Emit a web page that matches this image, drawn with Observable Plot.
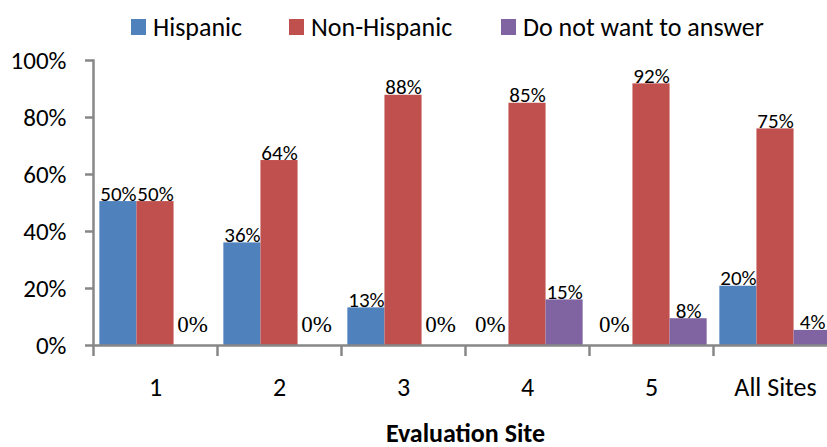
<!DOCTYPE html>
<html>
<head>
<meta charset="utf-8">
<script src="https://cdn.jsdelivr.net/npm/d3@7"></script>
<script src="https://cdn.jsdelivr.net/npm/@observablehq/plot@0.6"></script>
<style>
  html, body { margin: 0; padding: 0; background: #fff; overflow: hidden; }
  #wrap { width: 827px; height: 447px; position: relative; }
  #legend { position: relative; height: 46px; font-family: Carlito, Lato, sans-serif; font-size: 26px; color: #000; }
  .item { position: absolute; top: 12px; display: flex; align-items: center; white-space: nowrap; line-height: 30px; }
  .sw { width: 15px; height: 16px; margin-right: 7px; display: inline-block; }
  #chart svg { display: block; overflow: visible; }
  #chart svg g[font-family*="Serif"] text,
  #chart svg g[font-size="23"] text,
  #chart svg g[font-size="23px"] text,
  #chart svg text.zero-label { font-family: "Liberation Serif", "Times New Roman", serif !important; }
</style>
</head>
<body>
<div id="wrap">
  <div id="legend"></div>
  <div id="chart"></div>
</div>
<script>
const sites = ["1", "2", "3", "4", "5", "All Sites"];
const series = ["Hispanic", "Non-Hispanic", "Do not want to answer"];
const colors = ["#4F81BD", "#C0504D", "#8064A2"];
const hispanic = [50.5, 36, 13.2, 0, 0, 20.8];
const nonHispanic = [50.5, 64.9, 87.8, 85, 91.8, 76];
const noAnswer = [0, 0, 0, 16, 9.4, 5.3];
const hispanicLabels = ["50%", "36%", "13%", "0%", "0%", "20%"];
const nonHispanicLabels = ["50%", "64%", "88%", "85%", "92%", "75%"];
const noAnswerLabels = ["0%", "0%", "0%", "15%", "8%", "4%"];
const yTicks = [0, 20, 40, 60, 80, 100];

const valuesBySeries = [hispanic, nonHispanic, noAnswer];
const labelsBySeries = [hispanicLabels, nonHispanicLabels, noAnswerLabels];
const rows = [];
series.forEach((s, i) => sites.forEach((site, j) => rows.push({site, series: s, value: valuesBySeries[i][j], label: labelsBySeries[i][j]})));

// legend
const legendX = [131, 289, 501];
const legend = document.getElementById("legend");
series.forEach((s, i) => {
  const it = document.createElement("div");
  it.className = "item";
  it.style.left = legendX[i] + "px";
  it.innerHTML = `<span class="sw" style="background:${colors[i]}"></span><span>${s}</span>`;
  legend.appendChild(it);
});

const width = 827, height = 401;
const xRange = [93, 837];
const step = (xRange[1] - xRange[0]) / sites.length;
const sub = d3.scaleBand().domain(series).range([0, step]).paddingInner(0).paddingOuter(0.171);
const bw = sub.bandwidth();
const axisColor = "#878787";
const serif = "Liberation Serif, Times New Roman, serif";

const marks = [];
series.forEach((s, i) => {
  const data = rows.filter(d => d.series === s);
  marks.push(Plot.barY(data, {
    x: "site", y: "value", fill: colors[i],
    insetLeft: sub(s), insetRight: step - sub(s) - bw
  }));
  const off = sub(s) + bw / 2 - step / 2;
  marks.push(Plot.text(data.filter(d => d.value > 0), {
    x: "site", y: "value", text: "label", dx: off, dy: -1,
    lineAnchor: "bottom", fontSize: 21, fill: "#000"
  }));
  marks.push(Plot.text(data.filter(d => d.value === 0), {
    x: "site", y: "value", text: "label", dx: off, dy: -14,
    lineAnchor: "bottom", fontSize: 23, fontFamily: serif, fill: "#000"
  }));
});

const chart = Plot.plot({
  width, height,
  marginTop: 14, marginBottom: 102, marginLeft: 93, marginRight: -10,
  style: {color: "#000", background: "transparent", fontFamily: "Carlito, Lato, sans-serif"},
  x: {domain: sites, range: xRange, padding: 0, axis: null, label: null},
  y: {domain: [0, 100], axis: null, label: null},
  marks: [
    Plot.axisY({ticks: yTicks, tickSize: 8, tickPadding: 19, tickFormat: d => d + "%", label: null,
      stroke: axisColor, strokeWidth: 2.5, fill: "#000", fontSize: 25}),
    Plot.axisX({ticks: sites, tickSize: 11, dx: -step / 2, tickFormat: () => "", label: null,
      stroke: axisColor, strokeWidth: 2.5}),
    Plot.axisX({ticks: sites, tickSize: 0, tickPadding: 32, label: null, fill: "#000", fontSize: 26}),
    ...marks,
    Plot.frame({anchor: "left", stroke: axisColor, strokeWidth: 2.5}),
    Plot.ruleY([0], {stroke: axisColor, strokeWidth: 2.5}),
    Plot.text(["Evaluation Site"], {frameAnchor: "bottom", dy: 96, text: d => d,
      fontWeight: "bold", fontSize: 26, fill: "#000"})
  ]
});
document.getElementById("chart").appendChild(chart);
// zero-value data labels are set in a serif face, as in the original chart
chart.querySelectorAll("text").forEach(t => {
  if (t.textContent.trim() === "0%" && !t.closest('[aria-label*="axis"]')) {
    t.classList.add("zero-label");
    t.setAttribute("font-family", serif);
    t.style.fontFamily = serif;
  }
});
</script>
</body>
</html>
